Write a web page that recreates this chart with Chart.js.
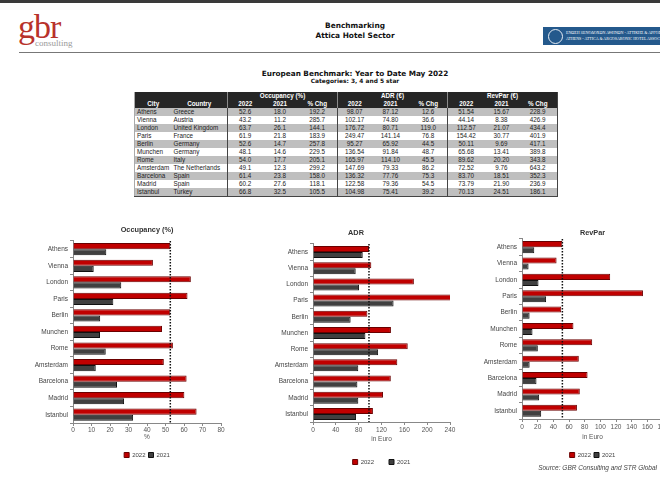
<!DOCTYPE html>
<html>
<head>
<meta charset="utf-8">
<script src="https://cdn.jsdelivr.net/npm/chart.js@4.4.0/dist/chart.umd.min.js"></script>
<style>
html, body { margin:0; padding:0; width:660px; height:490px; overflow:hidden; background:#fff; }
body { position:relative; font-family:"Liberation Sans", Arial, sans-serif; }
.abs { position:absolute; white-space:nowrap; line-height:1; }
#topbar { left:0; top:0; width:660px; height:3px; background:#3a3a3a; }
#rule { left:19px; top:52px; width:641px; height:1px; background:#777; }
#gbr { left:18px; top:9.5px; font-family:"Liberation Serif", serif; font-size:34px; color:#b8322b; letter-spacing:-1px; }
#consult { left:35px; top:38.5px; font-family:"Liberation Serif", serif; font-size:9px; color:#999; }
.head { left:255px; width:200px; text-align:center; font-family:"DejaVu Sans", Verdana, sans-serif; font-weight:bold; color:#111; }
#assoc { left:543px; top:27px; width:130px; height:18px; background:#24598c; }
#assoc .ring { position:absolute; left:5px; top:1.5px; width:13px; height:13px; border:1px solid #e8eef5; border-radius:50%; }
#assoc .l { position:absolute; left:23px; font-family:"Liberation Serif", serif; font-size:4px; color:#fff; white-space:nowrap; }
#bench { position:absolute; left:134px; top:92px; width:423px; border-collapse:collapse; table-layout:fixed; font-size:6.3px; color:#222; border-left:1px solid #aaa; border-right:1px solid #444; border-bottom:1px solid #444; }
#bench td, #bench th { padding:0; height:8px; line-height:8px; white-space:nowrap; overflow:hidden; text-align:center; }
#bench th { background:#262626; color:#fff; font-weight:bold; }
#bench tbody tr:nth-child(odd) td { background:#bfbfbf; }
#bench .sep { border-left:1px solid #444; }
#bench th.sep { border-left-color:#8a8a8a; }
#bench td.txt { text-align:left; padding-left:2px; }
canvas { position:absolute; }
#source { right:3px; top:464.5px; font-size:6.5px; font-style:italic; color:#444; }
</style>
</head>
<body>
<div id="topbar" class="abs"></div>
<div id="gbr" class="abs">gbr</div>
<div id="consult" class="abs">consulting</div>
<div class="abs head" style="top:21.8px;font-size:7.4px">Benchmarking</div>
<div class="abs head" style="top:31.8px;font-size:7.4px">Attica Hotel Sector</div>
<div id="assoc" class="abs">
  <div class="ring"></div>
  <div class="l" style="top:4px">ΕΝΩΣΗ ΞΕΝΟΔΟΧΩΝ ΑΘΗΝΩΝ - ΑΤΤΙΚΗΣ &amp; ΑΡΓΟΣΑΡΩΝΙΚΟΥ</div>
  <div class="l" style="top:10px">ATHENS - ATTICA &amp; ARGOSARONIC HOTEL ASSOCIATION</div>
</div>
<div id="rule" class="abs"></div>
<div class="abs head" style="top:70.2px;font-size:7.3px">European Benchmark: Year to Date May 2022</div>
<div class="abs head" style="top:79px;font-size:5.9px">Categories: 3, 4 and 5 star</div>

<table id="bench">
  <colgroup>
    <col style="width:37px"><col style="width:56px">
    <col style="width:35px"><col style="width:35px"><col style="width:40px">
    <col style="width:34px"><col style="width:38px"><col style="width:38px">
    <col style="width:37px"><col style="width:34px"><col style="width:39px">
  </colgroup>
  <thead></thead>
  <tbody></tbody>
</table>

<canvas id="occ" width="231" height="248" style="left:0;top:220px"></canvas>
<canvas id="adr" width="198" height="255" style="left:262px;top:220px"></canvas>
<canvas id="rev" width="213" height="248" style="left:460px;top:220px"></canvas>

<div id="source" class="abs">Source: GBR Consulting and STR Global</div>

<script>
const cities = ["Athens", "Vienna", "London", "Paris", "Berlin", "Munchen", "Rome", "Amsterdam", "Barcelona", "Madrid", "Istanbul"];
const countries = ["Greece", "Austria", "United Kingdom", "France", "Germany", "Germany", "Italy", "The Netherlands", "Spain", "Spain", "Turkey"];
const years = ["2022", "2021"];

const occ2022 = [52.6, 43.2, 63.7, 61.9, 52.6, 48.1, 54.0, 49.1, 61.4, 60.2, 66.8];
const occ2021 = [18.0, 11.2, 26.1, 21.8, 14.7, 14.6, 17.7, 12.3, 23.8, 27.6, 32.5];
const occChg = [192.2, 285.7, 144.1, 183.9, 257.8, 229.5, 205.1, 299.2, 158.0, 118.1, 105.5];

const adr2022 = [98.07, 102.17, 176.72, 249.47, 95.27, 136.54, 165.97, 147.69, 136.32, 122.58, 104.98];
const adr2021 = [87.12, 74.80, 80.71, 141.14, 65.92, 91.84, 114.10, 79.33, 77.76, 79.36, 75.41];
const adrChg = [12.6, 36.6, 119.0, 76.8, 44.5, 48.7, 45.5, 86.2, 75.3, 54.5, 39.2];

const rev2022 = [51.54, 44.14, 112.57, 154.42, 50.11, 65.68, 89.62, 72.52, 83.70, 73.79, 70.13];
const rev2021 = [15.67, 8.38, 21.07, 30.77, 9.69, 13.41, 20.20, 9.76, 18.51, 21.90, 24.51];
const revChg = [228.9, 426.9, 434.4, 401.9, 417.1, 389.8, 343.8, 643.2, 352.3, 236.9, 186.1];

const groups = ["Occupancy (%)", "ADR (€)", "RevPar (€)"];
const subHeads = ["2022", "2021", "% Chg"];

// table
const thead = document.querySelector('#bench thead');
const tbody = document.querySelector('#bench tbody');
let h1 = '<tr><th></th><th></th>';
groups.forEach(g => { h1 += `<th colspan="3" class="sep">${g}</th>`; });
thead.innerHTML = h1 + '</tr>';
let h2 = '<tr><th>City</th><th>Country</th>';
groups.forEach(() => {
    subHeads.forEach((s, j) => { h2 += `<th${j === 0 ? ' class="sep"' : ''}>${s}</th>`; });
});
thead.innerHTML += h2 + '</tr>';

let rows = '';
cities.forEach((c, i) => {
    rows += `<tr><td class="txt">${c}</td><td class="txt">${countries[i]}</td>` +
        `<td class="sep">${occ2022[i].toFixed(1)}</td><td>${occ2021[i].toFixed(1)}</td><td>${occChg[i].toFixed(1)}</td>` +
        `<td class="sep">${adr2022[i].toFixed(2)}</td><td>${adr2021[i].toFixed(2)}</td><td>${adrChg[i].toFixed(1)}</td>` +
        `<td class="sep">${rev2022[i].toFixed(2)}</td><td>${rev2021[i].toFixed(2)}</td><td>${revChg[i].toFixed(1)}</td></tr>`;
});
tbody.innerHTML = rows;

// charts
Chart.defaults.font.family = '"Liberation Sans", Arial, sans-serif';
Chart.defaults.color = '#444';

function refLine(value) {
    return {
        id: 'refLine',
        afterDatasetsDraw(chart) {
            const x = chart.scales.x.getPixelForValue(value);
            const { top, bottom } = chart.chartArea;
            const ctx = chart.ctx;
            ctx.save();
            ctx.strokeStyle = '#111';
            ctx.lineWidth = 1.5;
            ctx.setLineDash([1.5, 1.5]);
            ctx.beginPath();
            ctx.moveTo(x, top);
            ctx.lineTo(x, bottom);
            ctx.stroke();
            ctx.restore();
        }
    };
}

function panel(id, title, xTitle, v22, v21, max, step, lay) {
    new Chart(id, {
        type: 'bar',
        data: {
            labels: cities,
            datasets: [{
                label: years[0],
                data: v22,
                backgroundColor: '#c00000',
                borderColor: '#6a0000',
                borderWidth: 1,
                categoryPercentage: 0.74,
                barPercentage: 1
            }, {
                label: years[1],
                data: v21,
                backgroundColor: '#404040',
                borderColor: '#111',
                borderWidth: 1,
                categoryPercentage: 0.74,
                barPercentage: 1
            }]
        },
        options: {
            indexAxis: 'y',
            responsive: false,
            animation: false,
            devicePixelRatio: 1,
            layout: { padding: { left: 0, right: 10, top: 0, bottom: 0 } },
            scales: {
                x: {
                    min: 0,
                    max: max,
                    ticks: { stepSize: step, font: { size: 6.5 }, color: '#555', padding: lay.tickPad,
                             maxRotation: 0, minRotation: 0, autoSkip: false },
                    grid: { drawOnChartArea: false, tickLength: 3, color: '#888' },
                    border: { color: '#888' },
                    title: {
                        display: true, text: xTitle, color: '#555', font: { size: 6.5 },
                        padding: { top: lay.xtTop, bottom: lay.xtBot }
                    }
                },
                y: {
                    ticks: { font: { size: 6.5 }, color: '#444', padding: 2, autoSkip: false },
                    grid: { drawOnChartArea: false, tickLength: 3, color: '#888', offset: true },
                    border: { color: '#888' },
                    afterFit(s) { s.width = lay.yw; }
                }
            },
            plugins: {
                title: {
                    display: true, text: title, color: '#333',
                    fullSize: lay.titleFull,
                    font: { size: 7.3, weight: 'bold' },
                    padding: { top: lay.tTop, bottom: lay.tBot }
                },
                legend: {
                    position: 'bottom',
                    fullSize: false,
                    labels: { boxWidth: 5, boxHeight: 5, padding: lay.legPad, font: { size: 6 }, color: '#444' }
                },
                tooltip: { enabled: false }
            }
        },
        plugins: [refLine(lay.ref)]
    });
}

panel('occ', 'Occupancy (%)', '%', occ2022, occ2021, 80, 10,
    { yw: 73, titleFull: false, tTop: 5.6, tBot: 6.6, tickPad: 0, xtTop: 0, xtBot: 7.4, legPad: 3, ref: occ2022[0] });
panel('adr', 'ADR', 'in Euro', adr2022, adr2021, 240, 40,
    { yw: 51, titleFull: true, tTop: 8.6, tBot: 6.6, tickPad: 1, xtTop: 1, xtBot: 0.4, legPad: 15, ref: adr2022[0] });
panel('rev', 'RevPar', 'in Euro', rev2022, rev2021, 180, 20,
    { yw: 62, titleFull: false, tTop: 8.6, tBot: 1.6, tickPad: 1, xtTop: 2, xtBot: 7.4, legPad: 3, ref: rev2022[0] });
</script>
</body>
</html>
